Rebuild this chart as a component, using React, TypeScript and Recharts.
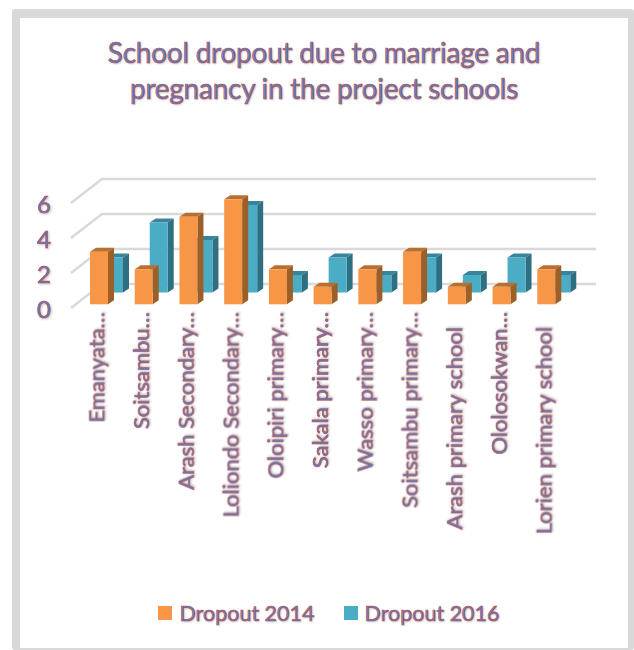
import React from 'react';
import { BarChart, Bar, XAxis, YAxis, CartesianGrid, Legend } from 'recharts';

const schools = [
  'Emanyata…',
  'Soitsambu…',
  'Arash Secondary…',
  'Loliondo Secondary…',
  'Oloipiri primary…',
  'Sakala primary…',
  'Wasso primary…',
  'Soitsambu primary…',
  'Arash primary school',
  'Ololosokwan…',
  'Lorien primary school',
];
const dropout2014 = [3, 2, 5, 6, 2, 1, 2, 3, 1, 1, 2];
const dropout2016 = [2, 4, 3, 5, 1, 2, 1, 2, 1, 2, 1];
const valueTicks = [0, 2, 4, 6];

const data = schools.map((school, i) => ({
  school,
  d2014: dropout2014[i],
  d2016: dropout2016[i],
}));

const FONT = 'Lato, sans-serif';
const TEXT_FILL = '#4f7fc8';
const TEXT_EDGE = '#c0504d';
const textLook = {
  fill: TEXT_FILL,
  stroke: TEXT_EDGE,
  strokeWidth: 0.7,
  filter: 'drop-shadow(1px 1px 1px rgba(0,0,0,0.25))',
};
const htmlTextLook = {
  color: TEXT_FILL,
  WebkitTextStroke: `0.7px ${TEXT_EDGE}`,
  textShadow: '1px 1px 2px rgba(0,0,0,0.25)',
};

// fake 3D box: front face plus a top and a right side
const Box = (props: any) => {
  const { x, y, width, height, front, top, side, dx, dy } = props;
  const depthX = 6;
  const depthY = 4;
  const left = x + dx;
  const right = left + width;
  const upper = y + dy;
  const lower = upper + height;
  return (
    <g>
      <polygon
        points={`${left},${upper} ${left + depthX},${upper - depthY} ${right + depthX},${upper - depthY} ${right},${upper}`}
        fill={top}
      />
      <polygon
        points={`${right},${upper} ${right + depthX},${upper - depthY} ${right + depthX},${lower - depthY} ${right},${lower}`}
        fill={side}
      />
      <rect x={left} y={upper} width={width} height={height} fill={front} />
    </g>
  );
};

// grid line runs along the floor edge, then back along the wall
const WallLine = (props: any) => {
  const { x1, x2, y1 } = props;
  const points = `${x1 - 6},${y1} ${x1 + 25},${y1 - 24} ${x2 + 27},${y1 - 24}`;
  return <polyline points={points} fill="none" stroke="#d9d9d9" strokeWidth={2.5} />;
};

const SchoolTick = (props: any) => {
  const { x, y, payload } = props;
  // whole names sit a little lower than the shortened ones
  const shortened = payload.value.endsWith('…');
  return (
    <text
      x={x}
      y={y}
      transform={`rotate(-90 ${x} ${y})`}
      dx={shortened ? 34 : 19}
      dy={5}
      textAnchor="end"
      fontFamily={FONT}
      fontSize={22}
      style={textLook}
    >
      {payload.value}
    </text>
  );
};

const ValueTick = (props: any) => {
  const { x, y, payload } = props;
  return (
    <text
      x={x}
      y={y}
      dx={-25}
      dy={10}
      textAnchor="middle"
      fontFamily={FONT}
      fontSize={24}
      style={textLook}
    >
      {payload.value}
    </text>
  );
};

const legendLabels = [
  { name: 'Dropout 2014', color: '#f79646' },
  { name: 'Dropout 2016', color: '#4bacc6' },
];

const ChartLegend = () => (
  <div
    style={{
      display: 'flex',
      justifyContent: 'center',
      alignItems: 'center',
      gap: 29,
      height: 30,
      fontFamily: FONT,
      fontSize: 21.5,
      transform: 'translateX(31px)',
      ...htmlTextLook,
    }}
  >
    {legendLabels.map((item) => (
      <span key={item.name} style={{ display: 'flex', alignItems: 'center', gap: 7 }}>
        <span style={{ width: 14, height: 14, background: item.color }} />
        {item.name}
      </span>
    ))}
  </div>
);

export default function App() {
  return (
    <div
      style={{
        position: 'absolute',
        left: 0,
        top: 0,
        width: 634,
        height: 650,
        background: '#ffffff',
        overflow: 'hidden',
      }}
    >
      <div
        style={{
          position: 'absolute',
          boxSizing: 'border-box',
          left: 12,
          top: 9,
          width: 622,
          height: 641,
          borderStyle: 'solid',
          borderColor: '#d9d9d9',
          borderWidth: '9px 6px 2px 8px',
          borderRadius: 3,
        }}
      />
      <div
        style={{
          position: 'absolute',
          left: 20,
          top: 34,
          width: 608,
          textAlign: 'center',
          fontFamily: FONT,
          fontSize: 28,
          letterSpacing: '-0.25px',
          lineHeight: '36px',
          ...htmlTextLook,
        }}
      >
        School dropout due to marriage and
        <br />
        pregnancy in the project schools
      </div>
      <BarChart
        width={634}
        height={650}
        data={data}
        barSize={18}
        margin={{ top: 203, right: 65, bottom: 22, left: 27 }}
        style={{ position: 'absolute', left: 0, top: 0 }}
      >
        <CartesianGrid vertical={false} horizontal={<WallLine />} />
        <XAxis
          xAxisId="front"
          dataKey="school"
          interval={0}
          height={290}
          axisLine={false}
          tickLine={false}
          tick={<SchoolTick />}
        />
        <XAxis xAxisId="back" dataKey="school" hide />
        <YAxis
          width={50}
          domain={[0, 6]}
          ticks={valueTicks}
          axisLine={false}
          tickLine={false}
          tick={<ValueTick />}
        />
        <Legend verticalAlign="bottom" content={<ChartLegend />} />
        {/* back row goes first so the front row paints over it */}
        <Bar
          xAxisId="back"
          dataKey="d2016"
          name="Dropout 2016"
          isAnimationActive={false}
          shape={<Box front="#4bacc6" top="#38859b" side="#2f6f82" dx={15} dy={-15.5} />}
        />
        <Bar
          xAxisId="front"
          dataKey="d2014"
          name="Dropout 2014"
          isAnimationActive={false}
          shape={<Box front="#f79646" top="#b96f2e" side="#9c5f28" dx={0} dy={-3.7} />}
        />
      </BarChart>
    </div>
  );
}
